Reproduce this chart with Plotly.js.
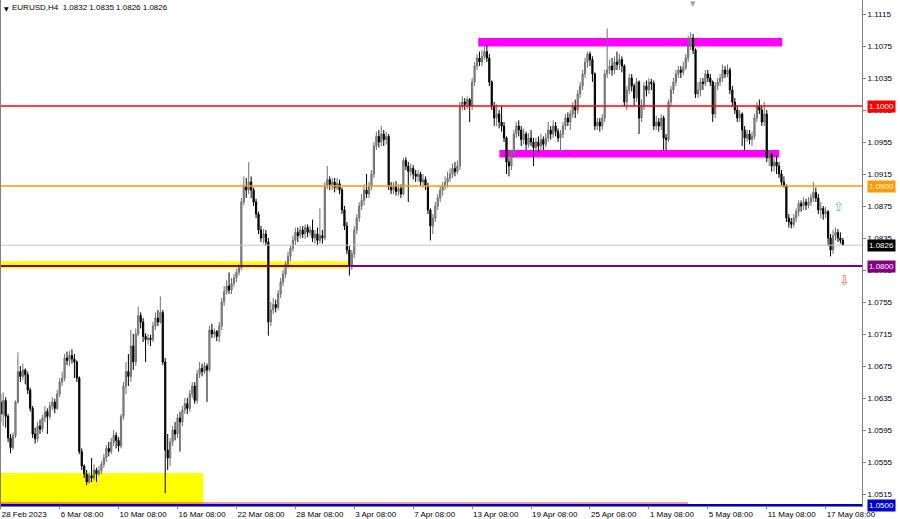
<!DOCTYPE html>
<html>
<head>
<meta charset="utf-8">
<script src="https://cdn.plot.ly/plotly-3.0.1.min.js"></script>
<style>html,body{margin:0;padding:0;background:#fff;}#chart{width:900px;height:519px;}</style>
</head>
<body>
<div id="chart"></div>
<script>
// EURUSD H4 candles, values in pips above 1.0000 (e.g. 626 = 1.0626)
const openPips = [630,615,632,612,585,573,588,630,668,662,670,664,645,622,590,584,600,596,610,618,612,625,630,622,640,655,660,685,682,688,684,680,660,568,550,540,530,538,535,545,540,544,552,560,572,568,580,588,582,575,612,650,668,662,700,680,715,738,730,712,708,710,708,725,735,730,742,680,570,560,580,595,590,610,605,620,628,622,640,650,632,665,672,668,675,670,720,715,718,712,725,755,768,775,770,778,785,792,798,880,900,895,905,895,880,865,845,835,840,830,730,745,752,748,765,780,790,802,812,822,832,842,838,845,840,848,842,845,835,840,832,838,835,900,908,902,905,898,903,895,870,850,820,800,815,845,860,875,882,895,890,900,915,950,962,955,965,958,962,900,895,900,893,897,890,932,925,918,922,915,912,915,905,908,900,870,850,860,875,885,895,900,905,910,915,922,918,925,1000,1005,1002,1008,1000,1030,1050,1060,1055,1062,1068,1060,1030,1000,985,990,980,975,960,930,925,940,965,975,970,958,965,952,960,955,948,955,950,958,952,960,970,965,975,968,960,965,975,985,980,990,1000,995,1015,1025,1040,1055,1065,1058,1040,975,980,975,985,1040,1045,1050,1045,1055,1052,1058,1050,1005,1020,1035,1025,1010,1030,985,1000,1025,1020,1030,1028,975,980,975,985,960,958,1005,1020,1030,1040,1045,1042,1048,1060,1075,1085,1070,1015,1020,1030,1028,1040,1035,1030,990,1025,1030,1035,1045,1040,1045,1020,1005,995,985,990,970,960,965,958,962,985,1000,995,980,990,935,940,925,930,925,915,905,900,860,855,852,860,868,878,875,880,876,880,885,892,885,870,872,865,868,835,820,838,842,835,832];
const highPips = [640,642,636,615,590,592,632,692,675,678,672,668,648,625,598,605,608,614,625,622,630,636,634,645,660,668,690,693,694,696,690,682,662,572,552,545,542,560,552,548,550,556,565,576,580,585,595,592,586,615,655,680,690,720,715,722,749,742,735,716,715,714,730,742,745,762,745,685,590,585,600,605,615,618,625,635,635,645,655,655,670,680,678,680,678,725,728,722,720,730,760,775,782,792,785,790,796,802,885,912,910,930,912,898,884,868,850,846,845,835,755,760,758,770,785,795,806,818,826,838,848,848,850,850,852,852,850,858,845,848,872,845,905,925,912,910,910,910,908,898,875,855,825,820,850,865,880,890,902,915,905,920,955,968,970,975,970,968,965,905,905,906,902,902,935,936,930,928,926,920,920,918,915,912,904,872,865,880,890,900,905,912,918,922,928,930,932,1005,1012,1010,1012,1010,1035,1055,1065,1068,1070,1076,1076,1065,1032,1005,1002,995,1000,980,962,935,945,970,980,982,975,972,968,966,970,960,960,962,965,962,966,980,975,982,980,972,970,980,990,992,995,1005,1008,1020,1030,1045,1060,1068,1068,1062,1042,985,985,990,1045,1097,1058,1060,1062,1068,1065,1062,1052,1025,1040,1040,1028,1035,1032,1008,1030,1032,1035,1034,1032,988,985,990,988,965,1008,1025,1035,1045,1050,1050,1055,1065,1088,1092,1090,1072,1030,1035,1035,1045,1045,1040,1032,1030,1035,1040,1052,1050,1052,1048,1025,1010,1000,995,992,975,970,970,968,990,1005,1008,1000,1005,995,945,942,935,938,930,920,912,902,865,860,865,872,882,882,886,884,886,890,905,898,890,880,875,874,870,840,845,848,846,842,835];
const lowPips = [605,600,598,580,566,570,585,628,655,658,652,640,618,585,578,580,590,592,605,590,608,620,616,620,636,650,656,676,675,678,660,655,565,545,535,526,528,530,532,530,538,540,548,555,562,565,575,572,568,572,608,640,650,655,670,675,712,722,705,680,702,700,705,720,725,728,676,516,545,550,575,582,585,568,600,615,615,618,635,628,628,660,662,665,630,668,710,710,706,705,720,750,764,765,765,774,780,788,795,876,885,890,885,875,860,840,830,828,825,713,725,740,742,745,760,775,785,798,806,818,826,830,834,835,834,836,838,830,828,826,828,828,832,896,895,895,892,895,890,865,845,815,788,795,810,840,855,870,876,885,885,895,910,945,948,950,950,952,895,890,890,888,888,885,888,920,880,912,908,905,906,900,898,895,865,832,840,855,870,880,888,895,898,905,910,912,915,920,995,995,996,980,995,1025,1045,1050,1050,1058,1055,1025,995,975,975,972,968,955,915,912,920,935,960,962,950,952,945,948,950,925,942,942,945,945,948,955,958,960,962,955,940,960,970,975,970,985,985,990,1010,1020,1035,1048,1050,1030,970,970,968,970,980,1035,1040,1038,1040,1045,1045,1042,1000,995,1015,1018,1000,1005,965,980,995,1012,1015,1020,970,970,968,970,945,945,955,1000,1015,1025,1035,1035,1038,1045,1055,1070,1065,1010,1010,1012,1020,1025,1030,1025,980,985,1020,1025,1030,1035,1036,1015,1000,990,980,980,950,945,955,952,950,958,980,990,975,975,930,925,918,918,915,910,900,898,855,848,847,848,855,862,868,870,870,872,875,880,880,865,860,858,860,825,812,815,832,830,828,826];
const closePips = [615,632,612,585,573,588,630,668,662,670,664,645,622,590,584,600,596,610,618,612,625,630,622,640,655,660,685,682,688,684,680,660,568,550,540,530,538,535,545,540,544,552,560,572,568,580,588,582,575,612,650,668,662,700,680,715,738,730,712,708,710,708,725,735,730,742,680,570,560,580,595,590,610,605,620,628,622,640,650,632,665,672,668,675,670,720,715,718,712,725,755,768,775,770,778,785,792,798,880,900,895,905,895,880,865,845,835,840,830,730,745,752,748,765,780,790,802,812,822,832,842,838,845,840,848,842,845,835,840,832,838,835,900,908,902,905,898,903,895,870,850,820,800,815,845,860,875,882,895,890,900,915,950,962,955,965,958,962,900,895,900,893,897,890,932,925,918,922,915,912,915,905,908,900,870,850,860,875,885,895,900,905,910,915,922,918,925,1000,1005,1002,1008,1000,1030,1050,1060,1055,1062,1068,1060,1030,1000,985,990,980,975,960,930,925,940,965,975,970,958,965,952,960,955,948,955,950,958,952,960,970,965,975,968,960,965,975,985,980,990,1000,995,1015,1025,1040,1055,1065,1058,1040,975,980,975,985,1040,1045,1050,1045,1055,1052,1058,1050,1005,1020,1035,1025,1010,1030,985,1000,1025,1020,1030,1028,975,980,975,985,960,958,1005,1020,1030,1040,1045,1042,1048,1060,1075,1085,1070,1015,1020,1030,1028,1040,1035,1030,990,1025,1030,1035,1045,1040,1045,1020,1005,995,985,990,970,960,965,958,962,985,1000,995,980,990,935,940,925,930,925,915,905,900,860,855,852,860,868,878,875,880,876,880,885,892,885,870,872,865,868,835,820,838,842,835,832,826];

// Time-axis labels at bar indices (H4 bars)
const dateTickBars = [0,24,48,72,96,120,144,168,192,216,240,264,288,312,336];
const dateTickLabels = ["28 Feb 2023","6 Mar 08:00","10 Mar 08:00","16 Mar 08:00","22 Mar 08:00","28 Mar 08:00","3 Apr 08:00","7 Apr 08:00","13 Apr 08:00","19 Apr 08:00","25 Apr 08:00","1 May 08:00","5 May 08:00","11 May 08:00","17 May 08:00"];
const priceTicks = [1.0515,1.0555,1.0595,1.0635,1.0675,1.0715,1.0755,1.0795,1.0835,1.0875,1.0915,1.0955,1.0995,1.1035,1.1075,1.1115];

// Horizontal levels
const levelRed = 1.1000, levelOrange = 1.0900, levelPurple = 1.0800, levelBlue = 1.0500, bidPrice = 1.0826;

const pip = v => 1 + v / 10000;
const barIndex = closePips.map((_, i) => i);

const candles = {
  type: 'candlestick',
  x: barIndex,
  open: openPips.map(pip),
  high: highPips.map(pip),
  low: lowPips.map(pip),
  close: closePips.map(pip),
  whiskerwidth: 0,
  increasing: {line: {color: '#707070', width: 1}, fillcolor: '#9a9a9a'},
  decreasing: {line: {color: '#000000', width: 1}, fillcolor: '#000000'},
  hoverinfo: 'skip',
  showlegend: false
};

const F = 'Liberation Sans, Arial, sans-serif';
const fmt = v => v.toFixed(4);

function hline(y, color, width, x0, x1, xref) {
  return {type: 'line', xref: xref || 'paper', yref: 'y', x0: x0 === undefined ? 0 : x0, x1: x1 === undefined ? 1 : x1, y0: y, y1: y, line: {color: color, width: width}, layer: 'above'};
}
function rect(x0, x1, y0, y1, color) {
  return {type: 'rect', xref: 'x', yref: 'y', x0: x0, x1: x1, y0: y0, y1: y1, fillcolor: color, line: {width: 0}, layer: 'below'};
}
function priceTag(y, bg) {
  return {xref: 'paper', yref: 'y', x: 1, y: y, xanchor: 'left', yanchor: 'middle', xshift: 5, text: fmt(y), showarrow: false, bgcolor: bg, borderpad: 1, font: {family: F, size: 8, color: '#ffffff'}};
}

const layout = {
  width: 900, height: 519,
  margin: {l: 0, r: 38, t: 0, b: 13, pad: 0},
  paper_bgcolor: '#ffffff', plot_bgcolor: '#ffffff',
  showlegend: false,
  xaxis: {
    range: [-0.3, 350.8], fixedrange: true,
    tickmode: 'array', tickvals: dateTickBars, ticktext: dateTickLabels,
    ticklabelposition: 'outside right',
    ticks: 'outside', ticklen: 2, tickcolor: '#808080',
    showgrid: false, zeroline: false, showline: true, linecolor: '#808080', linewidth: 1,
    rangeslider: {visible: false},
    tickfont: {family: F, size: 8, color: '#000000'}
  },
  yaxis: {
    side: 'right', range: [1.0500, 1.11325], fixedrange: true,
    tickmode: 'array', tickvals: priceTicks, ticktext: priceTicks.map(fmt),
    ticks: 'outside', ticklen: 3, tickcolor: '#808080',
    showgrid: false, zeroline: false, showline: true, linecolor: '#808080', linewidth: 1,
    tickfont: {family: F, size: 8, color: '#000000'}
  },
  shapes: [
    rect(-5, 82.5, 1.0500, 1.05413, '#ffff00'),
    rect(-5, 141.5, 1.0797, 1.0806, '#ffff00'),
    rect(194.5, 318.3, 1.10744, 1.1085, '#ff00ff'),
    rect(203.1, 317.1, 1.09356, 1.0945, '#ff00ff'),
    hline(bidPrice, '#c8c8c8', 1),
    hline(levelRed, '#ff0000', 1.6),
    hline(levelOrange, '#ff9900', 1.6),
    hline(levelPurple, '#800080', 2),
    hline(1.05037, '#ff3030', 1, -5, 280, 'x'),
    hline(levelBlue + 0.00012, '#0000cd', 2),
    {type: 'line', xref: 'paper', yref: 'paper', x0: 0.0006, x1: 0.0006, y0: 0, y1: 1, line: {color: '#808080', width: 1}, layer: 'above'}
  ],
  annotations: [
    {xref: 'paper', yref: 'paper', x: 0, y: 1, xanchor: 'left', yanchor: 'top', xshift: 2, yshift: -3, text: '▼', showarrow: false, font: {family: 'DejaVu Sans', size: 6, color: '#000000'}},
    {xref: 'paper', yref: 'paper', x: 0, y: 1, xanchor: 'left', yanchor: 'top', xshift: 10, yshift: -1, text: 'EURUSD,H4\u00a0\u00a01.0832 1.0835 1.0826 1.0826', showarrow: false, font: {family: F, size: 8, color: '#000000'}},
    {xref: 'x', yref: 'paper', x: 282, y: 1, yanchor: 'top', yshift: 2, text: '▼', showarrow: false, font: {family: 'DejaVu Sans', size: 7, color: '#a0a0a0'}},
    {xref: 'x', yref: 'y', x: 341.1, y: 1.0875, text: '⇧', showarrow: false, font: {family: 'DejaVu Sans', size: 13, color: '#66c2a0'}},
    {xref: 'x', yref: 'y', x: 343.6, y: 1.07825, text: '⇩', showarrow: false, font: {family: 'DejaVu Sans', size: 13, color: '#ff5a28'}},
    priceTag(levelRed, '#ff0000'),
    priceTag(levelOrange, '#ff9900'),
    priceTag(bidPrice, '#000000'),
    priceTag(levelPurple, '#800080'),
    Object.assign(priceTag(levelBlue, '#0000cd'), {yshift: 1})
  ]
};

Plotly.newPlot('chart', [candles], layout, {staticPlot: true, displayModeBar: false});
</script>
</body>
</html>
